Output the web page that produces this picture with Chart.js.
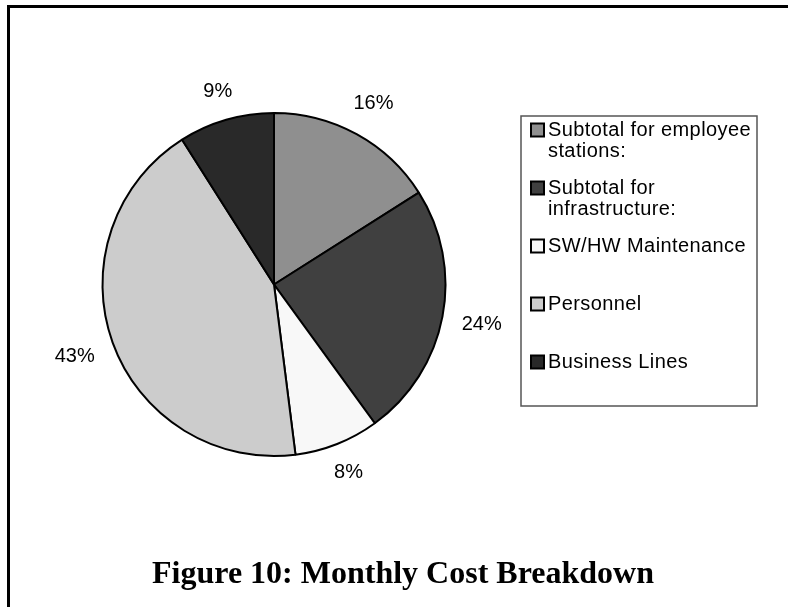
<!DOCTYPE html>
<html>
<head>
<meta charset="utf-8">
<script src="https://cdn.jsdelivr.net/npm/chart.js@4.4.0/dist/chart.umd.min.js"></script>
<style>
  html, body { margin: 0; padding: 0; background: #fff; }
  #wrap { position: relative; width: 788px; height: 607px; overflow: hidden; }
  #frame { position: absolute; left: 7px; top: 5px; right: -10px; bottom: -10px; border-left: 3px solid #000; border-top: 3px solid #000; }
  canvas { position: absolute; left: 0; top: 0; }
</style>
</head>
<body>
<div id="wrap">
  <div id="frame"></div>
  <canvas id="costChart" width="788" height="607"></canvas>
</div>
<script>
// chart data
const categories = [
  'Subtotal for employee stations:',
  'Subtotal for infrastructure:',
  'SW/HW Maintenance',
  'Personnel',
  'Business Lines'
];
const shares = [16, 24, 8, 43, 9];
const sliceColors = ['#8f8f8f', '#404040', '#f8f8f8', '#cccccc', '#292929'];
const titleText = 'Figure 10: Monthly Cost Breakdown';

const sansFont = '"Liberation Sans", Arial, sans-serif';

// wraps a legend label into lines that fit maxWidth
function wrapText(ctx, text, maxWidth) {
  const words = text.split(' ');
  const lines = [];
  let line = '';
  words.forEach(w => {
    const test = line ? line + ' ' + w : w;
    if (ctx.measureText(test).width > maxWidth && line) {
      lines.push(line);
      line = w;
    } else {
      line = test;
    }
  });
  if (line) lines.push(line);
  return lines;
}

// percent labels just outside each slice
const sliceLabels = {
  id: 'sliceLabels',
  afterDatasetsDraw(chart, args, opts) {
    const ctx = chart.ctx;
    const meta = chart.getDatasetMeta(0);
    ctx.save();
    ctx.font = opts.size + 'px ' + sansFont;
    ctx.fillStyle = '#000';
    ctx.textAlign = 'center';
    ctx.textBaseline = 'middle';
    meta.data.forEach((arc, i) => {
      const p = arc.getProps(['x', 'y', 'startAngle', 'endAngle', 'outerRadius'], true);
      const mid = (p.startAngle + p.endAngle) / 2;
      const txt = chart.data.datasets[0].data[i] + '%';
      const w = ctx.measureText(txt).width;
      const h = opts.size * 0.72;
      const cx = Math.cos(mid), cy = Math.sin(mid);
      const dist = p.outerRadius + opts.gap + Math.abs(cx) * w / 2 + Math.abs(cy) * h / 2;
      ctx.fillText(txt, p.x + cx * dist, p.y + cy * dist);
    });
    ctx.restore();
  }
};

// boxed legend on the right, like the office chart
const boxLegend = {
  id: 'boxLegend',
  afterDraw(chart, args, opts) {
    const ctx = chart.ctx;
    const b = opts.box;
    const n = chart.data.labels.length;
    const slot = (b.bottom - b.top) / n;
    ctx.save();
    ctx.fillStyle = '#fff';
    ctx.fillRect(b.left, b.top, b.right - b.left, b.bottom - b.top);
    ctx.strokeStyle = '#555';
    ctx.lineWidth = 1.5;
    ctx.strokeRect(b.left, b.top, b.right - b.left, b.bottom - b.top);
    ctx.font = opts.size + 'px ' + sansFont;
    ctx.letterSpacing = opts.spacing;
    ctx.textBaseline = 'middle';
    ctx.textAlign = 'left';
    chart.data.labels.forEach((label, i) => {
      const firstY = b.top + slot * i + opts.firstLine;
      const sq = opts.square;
      const sx = b.left + 10;
      const tx = sx + sq + 4;
      ctx.fillStyle = chart.data.datasets[0].backgroundColor[i];
      ctx.fillRect(sx, firstY - sq / 2, sq, sq);
      ctx.strokeStyle = '#000';
      ctx.lineWidth = 2;
      ctx.strokeRect(sx, firstY - sq / 2, sq, sq);
      ctx.fillStyle = '#000';
      const lines = wrapText(ctx, label, b.right - tx - 1);
      lines.forEach((ln, k) => {
        ctx.fillText(ln, tx, firstY + k * opts.lineHeight);
      });
    });
    ctx.restore();
  }
};

// figure caption under the chart
const caption = {
  id: 'caption',
  afterDraw(chart, args, opts) {
    const ctx = chart.ctx;
    ctx.save();
    ctx.font = 'bold ' + opts.size + 'px "Liberation Serif", "Times New Roman", serif';
    ctx.fillStyle = '#000';
    ctx.textAlign = 'center';
    ctx.textBaseline = 'alphabetic';
    ctx.fillText(titleText, opts.x, opts.y);
    ctx.restore();
  }
};

const chart = new Chart(document.getElementById('costChart'), {
  type: 'pie',
  data: {
    labels: categories,
    datasets: [{
      data: shares,
      backgroundColor: sliceColors,
      borderColor: '#000',
      borderWidth: 2
    }]
  },
  options: {
    responsive: false,
    animation: false,
    layout: {
      padding: { left: 101, right: 341, top: 112, bottom: 150 }
    },
    plugins: {
      legend: { display: false },
      tooltip: { enabled: false },
      title: { display: false },
      sliceLabels: { size: 20, gap: 19 },
      boxLegend: {
        box: { left: 521, top: 116, right: 757, bottom: 406 },
        size: 20,
        spacing: '0.4px',
        firstLine: 14,
        lineHeight: 21,
        square: 13
      },
      caption: { size: 32, x: 403, y: 583 }
    }
  },
  plugins: [sliceLabels, boxLegend, caption]
});
</script>
</body>
</html>
